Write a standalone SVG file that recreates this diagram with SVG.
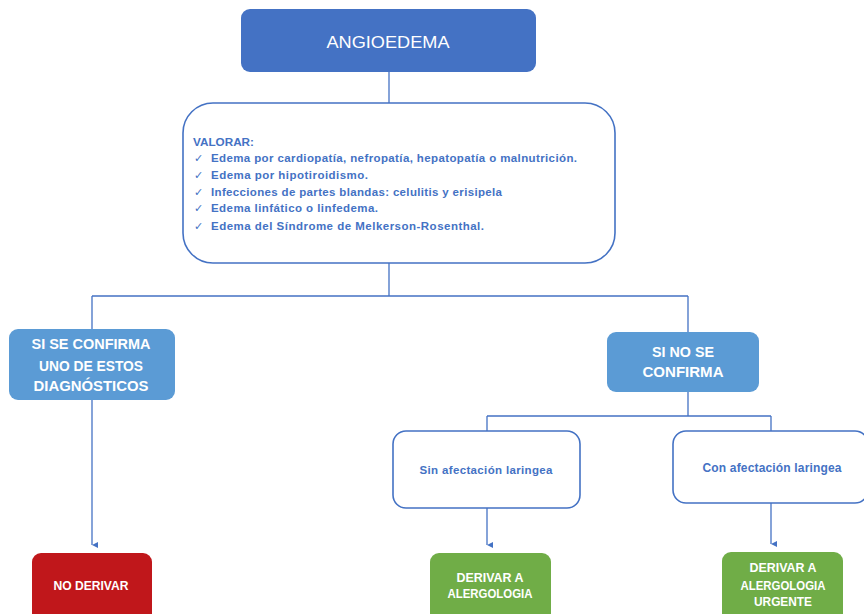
<svg xmlns="http://www.w3.org/2000/svg" width="864" height="614" viewBox="0 0 864 614">
  <defs>
    <marker id="arrow" viewBox="0 0 6 6" refX="3" refY="6" markerWidth="6" markerHeight="6" markerUnits="userSpaceOnUse" orient="auto-start-reverse">
      <path d="M0,0 L6,0 L3,6 Z" fill="#4472c4"/>
    </marker>
    <style>
      .lbl { font-family: "Liberation Sans", Arial, sans-serif; font-weight: bold; text-anchor: middle; }
      .white { fill: #ffffff; }
      .blue { fill: #4472c4; }
      .conn { fill: none; stroke: #4472c4; stroke-width: 1.3; }
      .outline { fill: #ffffff; stroke: #4472c4; stroke-width: 1.6; }
      .list { font-family: "Liberation Sans", Arial, sans-serif; font-weight: bold; font-size: 11.5px; fill: #4472c4; }
      .tick { font-family: "DejaVu Sans", sans-serif; font-size: 11px; fill: #4472c4; }
    </style>
  </defs>
  <rect width="864" height="614" fill="#ffffff"/>

  <!-- connectors -->
  <g id="connectors">
    <path class="conn" d="M389,72 V103"/>
    <path class="conn" d="M389,263 V296 M92,296 H688 M92,296 V329 M688,296 V332"/>
    <path class="conn" d="M92,400 V545" marker-end="url(#arrow)"/>
    <path class="conn" d="M688,392 V416 M487,416 H771 M487,416 V431 M771,416 V431"/>
    <path class="conn" d="M487,508 V545" marker-end="url(#arrow)"/>
    <path class="conn" d="M771,503 V544" marker-end="url(#arrow)"/>
  </g>

  <!-- root -->
  <g id="angioedema">
    <rect x="241" y="9" width="295" height="63" rx="9" fill="#4472c4"/>
    <text class="white" x="388" y="48" font-family="Liberation Sans, Arial, sans-serif" font-size="16.5" text-anchor="middle" textLength="123" lengthAdjust="spacingAndGlyphs">ANGIOEDEMA</text>
  </g>

  <!-- assessment list -->
  <g id="valorar">
    <rect class="outline" x="183" y="103" width="432" height="160" rx="30"/>
    <text class="list" x="193" y="146" textLength="61" lengthAdjust="spacingAndGlyphs">VALORAR:</text>
    <text class="tick" x="194" y="162">✓</text>
    <text class="tick" x="194" y="179">✓</text>
    <text class="tick" x="194" y="196">✓</text>
    <text class="tick" x="194" y="212">✓</text>
    <text class="tick" x="194" y="230">✓</text>
    <text class="list" x="211" y="162" textLength="366" lengthAdjust="spacing">Edema por cardiopatía, nefropatía, hepatopatía o malnutrición.</text>
    <text class="list" x="211" y="179" textLength="157" lengthAdjust="spacing">Edema por hipotiroidismo.</text>
    <text class="list" x="211" y="196" textLength="291" lengthAdjust="spacing">Infecciones de partes blandas: celulitis y erisipela</text>
    <text class="list" x="211" y="212" textLength="167" lengthAdjust="spacing">Edema linfático o linfedema.</text>
    <text class="list" x="211" y="230" textLength="273" lengthAdjust="spacing">Edema del Síndrome de Melkerson-Rosenthal.</text>
  </g>

  <!-- confirmed branch -->
  <g id="si-confirma">
    <rect x="9" y="329" width="166" height="71" rx="9" fill="#5b9bd5"/>
    <text class="lbl white" font-size="14" x="91" y="349" textLength="119" lengthAdjust="spacingAndGlyphs">SI SE CONFIRMA</text>
    <text class="lbl white" font-size="14" x="91" y="371" textLength="104" lengthAdjust="spacingAndGlyphs">UNO DE ESTOS</text>
    <text class="lbl white" font-size="14" x="91" y="391" textLength="115" lengthAdjust="spacingAndGlyphs">DIAGNÓSTICOS</text>
  </g>

  <g id="no-confirma">
    <rect x="607" y="332" width="152" height="60" rx="9" fill="#5b9bd5"/>
    <text class="lbl white" font-size="14" x="683" y="357" textLength="62" lengthAdjust="spacingAndGlyphs">SI NO SE</text>
    <text class="lbl white" font-size="14" x="683" y="377" textLength="81" lengthAdjust="spacingAndGlyphs">CONFIRMA</text>
  </g>

  <g id="sin-afectacion">
    <rect class="outline" x="393" y="431" width="187" height="77" rx="13"/>
    <text class="lbl blue" font-size="11.5" x="486" y="474" textLength="133" lengthAdjust="spacing">Sin afectación laringea</text>
  </g>

  <g id="con-afectacion">
    <rect class="outline" x="673" y="431" width="195" height="72" rx="13"/>
    <text class="lbl blue" font-size="12" x="772" y="472" textLength="139" lengthAdjust="spacing">Con afectación laringea</text>
  </g>

  <!-- outcomes -->
  <g id="no-derivar">
    <rect x="32" y="553" width="120" height="75" rx="9" fill="#c0171b"/>
    <text class="lbl white" font-size="12" x="91" y="590" textLength="75" lengthAdjust="spacingAndGlyphs">NO DERIVAR</text>
  </g>

  <g id="derivar-alergologia">
    <rect x="430" y="553" width="121" height="75" rx="9" fill="#70ad47"/>
    <text class="lbl white" font-size="12" x="490" y="582" textLength="67" lengthAdjust="spacingAndGlyphs">DERIVAR  A</text>
    <text class="lbl white" font-size="12" x="490" y="598" textLength="85" lengthAdjust="spacingAndGlyphs">ALERGOLOGIA</text>
  </g>

  <g id="derivar-urgente">
    <rect x="722" y="552" width="121" height="75" rx="9" fill="#70ad47"/>
    <text class="lbl white" font-size="12" x="783" y="572" textLength="67" lengthAdjust="spacingAndGlyphs">DERIVAR  A</text>
    <text class="lbl white" font-size="12" x="783" y="590" textLength="85" lengthAdjust="spacingAndGlyphs">ALERGOLOGIA</text>
    <text class="lbl white" font-size="12" x="783" y="606" textLength="58" lengthAdjust="spacingAndGlyphs">URGENTE</text>
  </g>
</svg>
